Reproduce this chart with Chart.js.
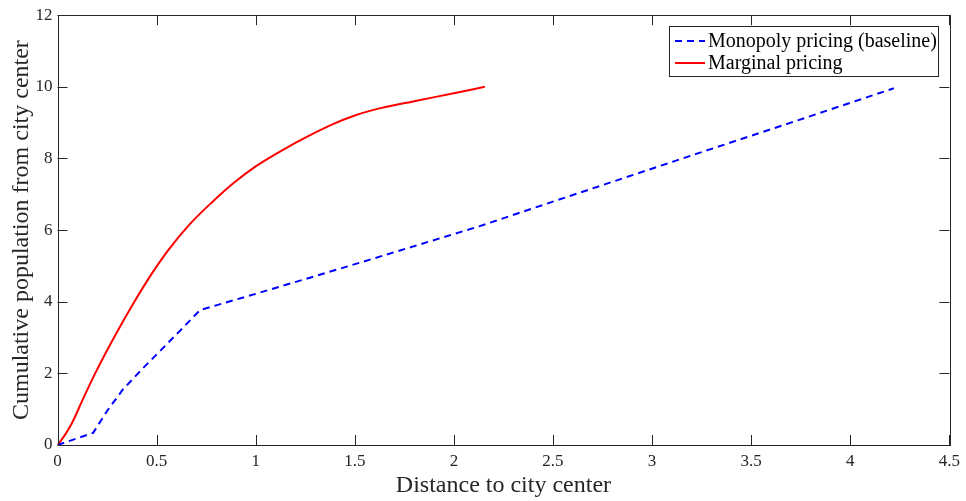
<!DOCTYPE html>
<html>
<head>
<meta charset="utf-8">
<script src="https://cdn.jsdelivr.net/npm/chart.js@4/dist/chart.umd.min.js"></script>
<style>
  html, body { margin: 0; padding: 0; background: #fff; }
  canvas { display: block; }
</style>
</head>
<body>
<canvas id="canvas_grafico" width="966" height="501"></canvas>
<script>
// Monopoly pricing (baseline) curve
const monopolyX = [0, 0.18, 0.25, 0.33, 0.42, 0.52, 0.62, 0.72, 1.0, 1.46, 2.13, 2.6, 3.17, 3.7, 4.22];
const monopolyY = [0, 0.34, 0.95, 1.55, 2.08, 2.64, 3.2, 3.77, 4.22, 4.98, 6.11, 6.98, 8.03, 9.0, 9.96];

// Marginal pricing curve
const marginalX = [0, 0.036, 0.072, 0.13, 0.19, 0.29, 0.39, 0.48, 0.56, 0.67, 0.78, 0.89, 1.0, 1.14, 1.26, 1.39, 1.5, 1.59, 1.8, 2.0, 2.156];
const marginalY = [0, 0.27, 0.6, 1.3, 2.0, 3.05, 4.02, 4.82, 5.45, 6.18, 6.78, 7.32, 7.78, 8.25, 8.61, 8.96, 9.2, 9.35, 9.6, 9.82, 10.0];

const xTicks = [0, 0.5, 1, 1.5, 2, 2.5, 3, 3.5, 4, 4.5];
const yTicks = [0, 2, 4, 6, 8, 10, 12];

const seriesNames = ['Monopoly pricing (baseline)', 'Marginal pricing'];

const axisColor = '#262626';
const serif = "'Liberation Serif', 'Times New Roman', serif";

function toPoints(xs, ys) {
    return xs.map((x, i) => ({ x: x, y: ys[i] }));
}

// box around the plot, inward ticks on all four sides, and a boxed legend
const axesBox = {
    id: 'axesBox',
    afterDraw(chart) {
        const ctx = chart.ctx;
        const a = chart.chartArea;
        const xs = chart.scales.x;
        const ys = chart.scales.y;
        const len = 10;
        ctx.save();
        ctx.strokeStyle = axisColor;
        ctx.lineWidth = 1;
        ctx.beginPath();
        xTicks.forEach(v => {
            const px = Math.round(xs.getPixelForValue(v)) + 0.5;
            ctx.moveTo(px, a.bottom); ctx.lineTo(px, a.bottom - len);
            ctx.moveTo(px, a.top); ctx.lineTo(px, a.top + len);
        });
        yTicks.forEach(v => {
            const py = Math.round(ys.getPixelForValue(v)) + 0.5;
            ctx.moveTo(a.left, py); ctx.lineTo(a.left + len, py);
            ctx.moveTo(a.right, py); ctx.lineTo(a.right - len, py);
        });
        ctx.stroke();
        ctx.strokeRect(Math.round(a.left) + 0.5, Math.round(a.top) + 0.5,
            Math.round(a.right - a.left), Math.round(a.bottom - a.top));

        // legend
        const lx = 669.5, ly = 26.5, lw = 269, lh = 50;
        ctx.fillStyle = '#fff';
        ctx.fillRect(lx, ly, lw, lh);
        ctx.strokeRect(lx, ly, lw, lh);
        ctx.font = '20px ' + serif;
        ctx.textBaseline = 'middle';
        ctx.textAlign = 'left';
        chart.data.datasets.forEach((ds, i) => {
            const rowY = 41 + i * 22;
            ctx.strokeStyle = ds.borderColor;
            ctx.lineWidth = ds.borderWidth;
            ctx.setLineDash(ds.borderDash || []);
            ctx.beginPath();
            ctx.moveTo(675, rowY);
            ctx.lineTo(705, rowY);
            ctx.stroke();
            ctx.setLineDash([]);
            ctx.fillStyle = '#000';
            ctx.fillText(ds.label, 708, rowY + 1);
        });
        ctx.restore();
    }
};

new Chart(document.getElementById('canvas_grafico').getContext('2d'), {
    type: 'line',
    data: {
        datasets: [
            {
                label: seriesNames[0],
                data: toPoints(monopolyX, monopolyY),
                borderColor: '#0000ff',
                borderWidth: 2,
                borderDash: [7, 5],
                pointRadius: 0,
                tension: 0,
                fill: false
            },
            {
                label: seriesNames[1],
                data: toPoints(marginalX, marginalY),
                borderColor: '#ff0000',
                borderWidth: 2,
                pointRadius: 0,
                cubicInterpolationMode: 'monotone',
                fill: false
            }
        ]
    },
    options: {
        responsive: false,
        animation: false,
        layout: { padding: { left: 0, top: 14, right: 16, bottom: 0 } },
        plugins: {
            legend: { display: false },
            tooltip: { enabled: false }
        },
        scales: {
            x: {
                type: 'linear',
                min: 0,
                max: 4.5,
                afterFit: s => { s.height = 56; },
                afterBuildTicks: s => { s.ticks = xTicks.map(v => ({ value: v })); },
                grid: { display: false, drawTicks: false },
                border: { display: false },
                ticks: {
                    padding: 6,
                    color: axisColor,
                    font: { family: serif, size: 17 },
                    maxRotation: 0,
                    callback: v => String(v)
                },
                title: {
                    display: true,
                    text: 'Distance to city center',
                    color: axisColor,
                    font: { family: serif, size: 24 },
                    padding: { top: 0, bottom: 1 }
                }
            },
            y: {
                type: 'linear',
                min: 0,
                max: 12,
                afterFit: s => { s.width = 57.5; },
                afterBuildTicks: s => { s.ticks = yTicks.map(v => ({ value: v })); },
                grid: { display: false, drawTicks: false },
                border: { display: false },
                ticks: {
                    padding: 5,
                    color: axisColor,
                    font: { family: serif, size: 17 },
                    callback: v => String(v)
                },
                title: {
                    display: true,
                    text: 'Cumulative population from city center',
                    color: axisColor,
                    font: { family: serif, size: 24 },
                    padding: { top: 7, bottom: 0 }
                }
            }
        }
    },
    plugins: [axesBox]
});
</script>
</body>
</html>
